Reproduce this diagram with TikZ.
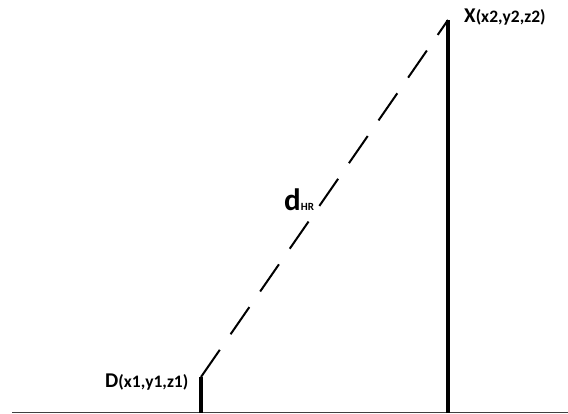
\documentclass[tikz,border=0pt]{standalone}
\usepackage{fontspec}
\setmainfont{Carlito}
\tikzset{
  pole/.style={line width=4pt, line cap=butt},
  ground/.style={line width=1.4pt, black!75},
  sight/.style={line width=2pt, dash pattern=on 33pt off 19pt},
  lbl/.style={anchor=base west, inner sep=0pt, font=\bfseries}
}
\newcommand{\fsz}[1]{\fontsize{#1}{#1}\selectfont}
\begin{document}
\begin{tikzpicture}[x=1pt,y=-1pt]
\useasboundingbox (0,0) rectangle (568,414);
\coordinate (G1) at (12,412.5);
\coordinate (G2) at (568,412.5);
\coordinate (Dbase) at (201,413);
\coordinate (Dtop) at (201,377);
\coordinate (Xbase) at (448,413);
\coordinate (Xtop) at (448,20);
\draw[ground] (G1) -- (G2);
\draw[pole] (Dbase) -- (Dtop);
\draw[pole] (Xbase) -- (Xtop);
\draw[sight] (Dtop) -- (Xtop);
\node[lbl] (xl) at (464,23) {\fsz{21}X\fsz{17.5}(x2,y2,z2)};
\node[lbl] (dl) at (105,387) {\fsz{21}D\fsz{17.5}(x1,y1,z1)};
\node[lbl] (hr) at (284,211) {\fsz{31}d\fsz{11}HR};
\end{tikzpicture}
\end{document}
